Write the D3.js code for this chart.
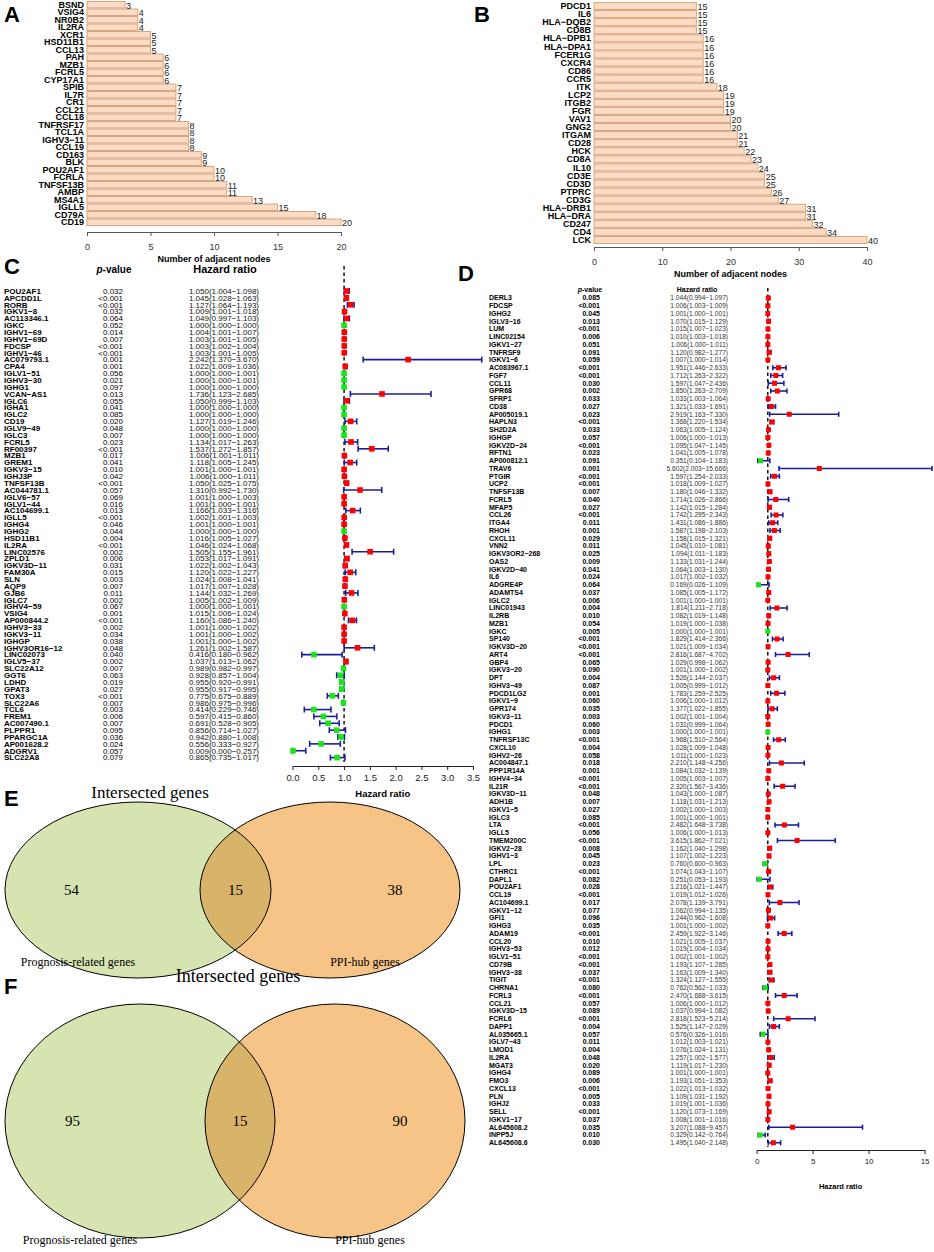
<!DOCTYPE html>
<html>
<head>
<meta charset="utf-8">
<script src="https://d3js.org/d3.v7.min.js"></script>
<style>
  body { margin: 0; background: #fff; }
  svg { display: block; font-family: "Liberation Sans", Arial, sans-serif; }
</style>
</head>
<body>
<script>
"use strict";

// ---- Panel A : hub genes of prognosis-related set ----
var aGenes = ["BSND","VSIG4","NR0B2","IL2RA","XCR1","HSD11B1","CCL13","PAH","MZB1","FCRL5","CYP17A1","SPIB","IL7R","CR1","CCL21","CCL18","TNFRSF17","TCL1A","IGHV3-11","CCL19","CD163","BLK","POU2AF1","FCRLA","TNFSF13B","AMBP","MS4A1","IGLL5","CD79A","CD19"];
var aCounts = [3,4,4,4,5,5,5,6,6,6,6,7,7,7,7,7,8,8,8,8,9,9,10,10,11,11,13,15,18,20];
var aTicks = [0,5,10,15,20];

// ---- Panel B : hub genes of PPI network ----
var bGenes = ["PDCD1","IL6","HLA-DQB2","CD8B","HLA-DPB1","HLA-DPA1","FCER1G","CXCR4","CD86","CCR5","ITK","LCP2","ITGB2","FGR","VAV1","GNG2","ITGAM","CD28","HCK","CD8A","IL10","CD3E","CD3D","PTPRC","CD3G","HLA-DRB1","HLA-DRA","CD247","CD4","LCK"];
var bCounts = [15,15,15,15,16,16,16,16,16,16,18,19,19,19,20,20,21,21,22,23,24,25,25,26,27,31,31,32,34,40];
var bTicks = [0,10,20,30,40];

// ---- Panel C : forest plot ----
var cGenes = ["POU2AF1","APCDD1L","RORB","IGKV1-8","AC113346.1","IGKC","IGHV1-69","IGHV1-69D","FDCSP","IGHV1-46","AC079793.1","CPA4","IGLV1-51","IGHV3-30","IGHG1","VCAN-AS1","IGLC6","IGHA1","IGLC2","CD19","IGLV9-49","IGLC3","FCRL5","RF00397","MZB1","GREM1","IGKV3-15","IGHJ3P","TNFSF13B","AC044781.1","IGLV6-57","IGLV1-44","AC104699.1","IGLL5","IGHG4","IGHG2","HSD11B1","IL2RA","LINC02576","ZPLD1","IGKV3D-11","FAM30A","SLN","AQP9","GJB6","IGLC7","IGHV4-59","VSIG4","AP000844.2","IGHV3-33","IGKV3-11","IGHGP","IGHV3OR16-12","LINC02073","IGLV5-37","SLC22A12","GGT6","LDHD","GPAT3","TOX3","SLC22A6","TCL6","FREM1","AC007490.1","PLPPR1","PPARGC1A","AP001628.2","ADGRV1","SLC22A8"];
var cPval = ["0.032","<0.001","<0.001","0.032","0.064","0.052","0.014","0.007","<0.001","<0.001","0.001","0.001","0.056","0.021","0.097","0.013","0.055","0.041","0.085","0.020","0.048","0.007","0.023","<0.001","0.017","0.041","0.010","0.042","<0.001","0.057","0.069","0.016","0.013","<0.001","0.046","0.044","0.004","<0.001","0.002","0.006","0.031","0.015","0.003","0.007","0.011","0.002","0.067","0.001","<0.001","0.002","0.034","0.038","0.048","0.040","0.002","0.007","0.063","0.019","0.027","<0.001","0.007","0.003","0.006","0.007","0.095","0.036","0.024","0.057","0.079"];
var cHR = [1.050,1.045,1.127,1.009,1.049,1.000,1.004,1.003,1.003,1.003,2.242,1.022,1.000,1.000,1.000,1.736,1.050,1.000,1.000,1.127,1.000,1.000,1.134,1.537,1.006,1.118,1.001,1.006,1.050,1.310,1.001,1.001,1.166,1.002,1.001,1.000,1.016,1.046,1.505,1.053,1.022,1.120,1.024,1.017,1.144,1.005,1.000,1.015,1.160,1.001,1.001,1.001,1.261,0.416,1.037,0.989,0.928,0.955,0.955,0.775,0.986,0.414,0.597,0.691,0.856,0.942,0.556,0.009,0.865];
var cLower = [1.004,1.028,1.064,1.001,0.997,1.000,1.001,1.001,1.002,1.001,1.370,1.009,1.000,1.000,1.000,1.123,0.999,1.000,1.000,1.019,1.000,1.000,1.017,1.272,1.001,1.005,1.000,1.000,1.025,0.992,1.000,1.000,1.033,1.001,1.000,1.000,1.005,1.024,1.155,1.017,1.002,1.022,1.008,1.007,1.032,1.002,1.000,1.006,1.086,1.000,1.000,1.000,1.002,0.180,1.013,0.982,0.857,0.920,0.917,0.675,0.975,0.229,0.415,0.528,0.714,0.880,0.333,0.000,0.735];
var cUpper = [1.098,1.063,1.193,1.018,1.103,1.000,1.007,1.005,1.004,1.005,3.670,1.036,1.001,1.001,1.000,2.685,1.103,1.000,1.000,1.246,1.000,1.000,1.263,1.857,1.011,1.245,1.001,1.011,1.075,1.730,1.003,1.001,1.316,1.003,1.001,1.000,1.027,1.068,1.961,1.091,1.043,1.227,1.041,1.028,1.269,1.009,1.001,1.024,1.240,1.002,1.002,1.002,1.587,0.962,1.062,0.997,1.004,0.991,0.995,0.889,0.996,0.746,0.860,0.905,1.027,1.008,0.927,0.257,1.017];
var cTicks = [0,0.5,1,1.5,2,2.5,3,3.5];

// ---- Panel D : forest plot ----
var dGenes = ["DERL3","FDCSP","IGHG2","IGLV3-16","LUM","LINC02154","IGKV1-27","TNFRSF9","IGKV1-6","AC083967.1","FGF7","CCL11","GPR68","SFRP1","CD38","AP005019.1","HAPLN3","SH2D2A","IGHGP","IGKV2D-24","RFTN1","AP000812.1","TRAV6","PTGIR","UCP2","TNFSF13B","FCRL5","MFAP5","CCL26","ITGA4","RHOH","CXCL11","VNN2","IGKV3OR2-268","OAS2","IGKV2D-40","IL6","ADGRE4P","ADAMTS4","IGLC2","LINC01943","IL2RB","MZB1","IGKC","SP140","IGKV3D-20","ART4","GBP4","IGKV3-20","DPT","IGHV3-49","PDCD1LG2","IGKV1-9","GPR174","IGKV3-11","PDCD1","IGHG1","TNFRSF13C","CXCL10","IGHV2-26","AC004847.1","PPP1R14A","IGHV4-34","IL21R","IGKV3D-11","ADH1B","IGKV1-5","IGLC3","LTA","IGLL5","TMEM200C","IGKV2-28","IGHV1-3","LPL","CTHRC1","DAPL1","POU2AF1","CCL19","AC104699.1","IGKV1-12","GFI1","IGHG3","ADAM19","CCL20","IGHV3-53","IGLV1-51","CD79B","IGHV3-38","TIGIT","CHRNA1","FCRL3","CCL21","IGKV3D-15","FCRL6","DAPP1","AL035665.1","IGLV7-43","LMOD1","IL2RA","MGAT3","IGHG4","FMO3","CXCL13","PLN","IGHJ2","SELL","IGKV1-17","AL645608.2","INPP5J","AL645608.6"];
var dPval = ["0.085","<0.001","0.045","0.013","<0.001","0.006","0.051","0.091","0.059","<0.001","<0.001","0.030","0.002","0.033","0.027","0.023","<0.001","0.033","0.057","<0.001","0.023","0.091","0.001","<0.001","<0.001","0.007","0.040","0.027","<0.001","0.011","0.001","0.029","0.011","0.025","0.009","0.041","0.024","0.064","0.037","0.006","0.004","0.010","0.054","0.005","<0.001","<0.001","<0.001","0.065","0.090","0.004","0.087","0.001","0.060","0.035","0.003","0.060","0.003","<0.001","0.004","0.058","0.018","0.001","<0.001","<0.001","0.048","0.007","0.027","0.085","<0.001","0.056","<0.001","0.008","0.045","0.023","<0.001","0.082","0.028","<0.001","0.017","0.077","0.096","0.035","<0.001","0.010","0.012","<0.001","<0.001","0.037","<0.001","0.080","<0.001","0.057","0.089","<0.001","0.004","0.057","0.011","0.004","0.048","0.020","0.089","0.006","<0.001","0.005","0.033","<0.001","0.037","0.035","0.010","0.030"];
var dHR = [1.044,1.006,1.001,1.070,1.015,1.010,1.006,1.120,1.007,1.951,1.712,1.597,1.850,1.033,1.321,2.919,1.368,1.063,1.006,1.095,1.041,0.351,5.602,1.597,1.018,1.180,1.714,1.142,1.742,1.431,1.587,1.158,1.045,1.094,1.133,1.064,1.017,0.169,1.085,1.001,1.814,1.082,1.019,1.000,1.829,1.021,2.816,1.029,1.001,1.526,1.005,1.783,1.006,1.377,1.002,1.031,1.000,1.968,1.028,1.011,2.210,1.084,1.005,2.320,1.043,1.118,1.002,1.001,2.482,1.006,3.615,1.162,1.107,0.760,1.074,0.251,1.216,1.019,2.078,1.062,1.244,1.001,2.459,1.021,1.019,1.002,1.193,1.163,1.324,0.762,2.470,1.006,1.037,2.818,1.525,0.576,1.012,1.076,1.257,1.119,1.001,1.193,1.022,1.109,1.019,1.120,1.008,3.207,0.329,1.495];
var dLower = [0.994,1.003,1.000,1.015,1.007,1.003,1.000,0.982,1.000,1.446,1.263,1.047,1.263,1.003,1.033,1.163,1.220,1.005,1.000,1.047,1.005,0.104,2.003,1.254,1.009,1.046,1.026,1.015,1.295,1.086,1.198,1.015,1.010,1.011,1.031,1.003,1.002,0.026,1.005,1.000,1.211,1.019,1.000,1.000,1.414,1.009,1.687,0.998,1.000,1.144,0.999,1.259,1.000,1.022,1.001,0.999,1.000,1.510,1.009,1.000,1.148,1.032,1.003,1.567,1.000,1.031,1.000,1.000,1.648,1.000,1.862,1.040,1.002,0.600,1.043,0.053,1.021,1.012,1.139,0.994,0.962,1.000,1.922,1.005,1.004,1.001,1.107,1.009,1.127,0.562,1.688,1.000,0.994,1.523,1.147,0.326,1.003,1.024,1.002,1.017,1.000,1.051,1.013,1.031,1.001,1.073,1.001,1.088,0.142,1.040];
var dUpper = [1.097,1.009,1.001,1.129,1.023,1.018,1.011,1.277,1.014,2.633,2.322,2.436,2.709,1.064,1.691,7.330,1.534,1.124,1.013,1.145,1.078,1.183,15.666,2.033,1.027,1.332,2.866,1.284,2.343,1.886,2.103,1.321,1.081,1.183,1.244,1.130,1.032,1.109,1.172,1.001,2.718,1.148,1.038,1.001,2.366,1.034,4.702,1.062,1.002,2.037,1.012,2.525,1.012,1.855,1.004,1.064,1.001,2.564,1.048,1.023,4.256,1.139,1.007,3.436,1.087,1.213,1.003,1.001,3.738,1.013,7.021,1.298,1.223,0.963,1.107,1.193,1.447,1.026,3.791,1.135,1.608,1.002,3.146,1.037,1.034,1.002,1.285,1.340,1.555,1.033,3.615,1.012,1.082,5.214,2.029,1.016,1.021,1.131,1.577,1.230,1.001,1.353,1.032,1.192,1.036,1.169,1.016,9.457,0.764,2.148];
var dTicks = [0,5,10,15];

// ---- Panels E / F : Venn counts ----
var vennNames = ["Prognosis-related genes", "PPI-hub genes"];
var vennE = [54, 15, 38];
var vennF = [95, 15, 90];

var W = 934, H = 1252;
var svg = d3.select("body").append("svg").attr("width", W).attr("height", H);
svg.append("rect").attr("width", W).attr("height", H).attr("fill", "#fff");

function panelLetter(t, x, y) {
  svg.append("text").attr("x", x).attr("y", y).text(t)
    .style("font-size", "22px").style("font-weight", "bold");
}
var minus = function(s) { return s.replace(/-/g, "\u2212"); };

// horizontal bar chart of adjacent node counts
function drawBars(genes, counts, ticks, o) {
  var g = svg.append("g");
  var x = d3.scaleLinear().domain([0, d3.max(ticks)]).range([o.x0, o.x1]);
  var y = d3.scaleBand().domain(genes).range([o.y0, o.y1]).paddingInner(0.14).paddingOuter(0.07);

  g.selectAll("rect").data(genes).join("rect")
    .attr("x", x(0)).attr("y", function(d) { return y(d); })
    .attr("width", function(d, i) { return x(counts[i]) - x(0); })
    .attr("height", y.bandwidth())
    .attr("fill", "#fddcc5").attr("stroke", "#d8a47f").attr("stroke-width", 1);

  g.selectAll("text.gene").data(genes).join("text").attr("class", "gene")
    .attr("x", x(0) - 3).attr("y", function(d) { return y(d) + y.bandwidth() / 2; })
    .attr("dy", "0.35em").attr("text-anchor", "end")
    .style("font-size", "9px").style("font-weight", "bold")
    .text(minus);

  g.selectAll("text.val").data(genes).join("text").attr("class", "val")
    .attr("x", function(d, i) { return x(counts[i]) + 1; })
    .attr("y", function(d) { return y(d) + y.bandwidth() / 2 + 1; })
    .attr("dy", "0.35em").style("font-size", "9px").attr("fill", "#222")
    .text(function(d, i) { return counts[i]; });

  var ax = g.append("g").attr("transform", "translate(0," + o.axisY + ")")
    .call(d3.axisBottom(x).tickValues(ticks).tickSize(4).tickSizeOuter(0).tickPadding(8));
  ax.selectAll("text").style("font-size", "9px").attr("fill", "#333");
  ax.selectAll("line,path").attr("stroke", "#555");

  g.append("text").attr("x", (o.x0 + o.x1) / 2).attr("y", o.axisY + 30)
    .attr("text-anchor", "middle").style("font-size", "9px").style("font-weight", "bold")
    .text("Number of adjacent nodes");
}

drawBars(aGenes, aCounts, aTicks, { x0: 87, x1: 341, y0: 1, y1: 226, axisY: 232 });
drawBars(bGenes, bCounts, bTicks, { x0: 594, x1: 867, y0: 2, y1: 244, axisY: 247 });
panelLetter("A", 4, 22);
panelLetter("B", 474, 22);

// forest plot with p-value and HR(95% CI) columns
function drawForest(genes, pv, hr, lo, hi, ticks, o) {
  var g = svg.append("g");
  var n = genes.length;
  var y = d3.scalePoint().domain(d3.range(n)).range([o.y0, o.y1]);
  var x = d3.scaleLinear().domain([0, d3.max(ticks)]).range([o.x0, o.x1]);
  var f3 = d3.format(".3f");
  var idx = d3.range(n);

  // header
  var hp = g.append("text").attr("x", o.pX - o.pHeadShift).attr("y", o.headY).attr("text-anchor", "middle")
    .style("font-size", o.headSize + "px").style("font-weight", "bold");
  hp.append("tspan").style("font-style", "italic").text("p");
  hp.append("tspan").text("-value");
  g.append("text").attr("x", o.hrHeadX).attr("y", o.headY).attr("text-anchor", "middle")
    .style("font-size", o.headSize2 + "px").style("font-weight", "bold").text("Hazard ratio");

  // table columns
  g.selectAll("text.nm").data(idx).join("text").attr("class", "nm")
    .attr("x", o.nameX).attr("y", function(i) { return y(i); }).attr("dy", "0.35em")
    .style("font-size", o.font + "px").style("font-weight", "bold")
    .text(function(i) { return minus(genes[i]); });
  g.selectAll("text.pv").data(idx).join("text").attr("class", "pv")
    .attr("x", o.pX).attr("y", function(i) { return y(i); }).attr("dy", "0.35em")
    .attr("text-anchor", "end").style("font-size", o.font + "px").style("font-weight", o.pWeight)
    .text(function(i) { return pv[i]; });
  g.selectAll("text.hr").data(idx).join("text").attr("class", "hr")
    .attr("x", o.hrX).attr("y", function(i) { return y(i); }).attr("dy", "0.35em")
    .attr("text-anchor", "end").style("font-size", o.hrFont + "px").attr("fill", o.hrColor)
    .text(function(i) { return minus(f3(hr[i]) + "(" + f3(lo[i]) + "-" + f3(hi[i]) + ")"); });

  // reference line at HR = 1
  g.append("line").attr("x1", x(1)).attr("x2", x(1)).attr("y1", o.dashTop).attr("y2", o.dashBottom)
    .attr("stroke", "#000").attr("stroke-width", 1.4).attr("stroke-dasharray", "3.5,3");

  // confidence intervals
  var ci = g.selectAll("g.ci").data(idx).join("g").attr("class", "ci").attr("stroke", "#1b1f96").attr("stroke-width", 1.6);
  ci.append("line").attr("x1", function(i) { return x(lo[i]); }).attr("x2", function(i) { return x(hi[i]); })
    .attr("y1", function(i) { return y(i); }).attr("y2", function(i) { return y(i); });
  ci.append("line").attr("x1", function(i) { return x(lo[i]); }).attr("x2", function(i) { return x(lo[i]); })
    .attr("y1", function(i) { return y(i) - o.cap / 2; }).attr("y2", function(i) { return y(i) + o.cap / 2; });
  ci.append("line").attr("x1", function(i) { return x(hi[i]); }).attr("x2", function(i) { return x(hi[i]); })
    .attr("y1", function(i) { return y(i) - o.cap / 2; }).attr("y2", function(i) { return y(i) + o.cap / 2; });

  // point estimates
  g.selectAll("rect.pt").data(idx).join("rect").attr("class", "pt")
    .attr("x", function(i) { return x(hr[i]) - o.sq / 2; }).attr("y", function(i) { return y(i) - o.sq / 2; })
    .attr("width", o.sq).attr("height", o.sq)
    .attr("fill", function(i) { return +f3(hr[i]) > 1 ? "#ff0000" : "#19e619"; });

  var ax = g.append("g").attr("transform", "translate(0," + o.axisY + ")")
    .call(d3.axisBottom(x).tickValues(ticks).tickFormat(o.tickFmt).tickSize(4).tickSizeOuter(0).tickPadding(4));
  ax.selectAll("text").style("font-size", o.axisFont + "px").attr("fill", "#222");
  ax.selectAll("line,path").attr("stroke", "#222");
  g.append("text").attr("x", (o.x0 + o.x1) / 2).attr("y", o.titleY).attr("text-anchor", "middle")
    .style("font-size", o.titleFont + "px").style("font-weight", "bold").text("Hazard ratio");
}

drawForest(cGenes, cPval, cHR, cLower, cUpper, cTicks, {
  y0: 291, y1: 757.6, x0: 292.5, x1: 473,
  nameX: 4, pX: 123, hrX: 259, font: 8, hrFont: 8, pWeight: "normal", hrColor: "#111",
  headY: 273, pHeadShift: 9, headSize: 10, hrHeadX: 225, headSize2: 11,
  dashTop: 266, dashBottom: 762, cap: 6, sq: 5.6,
  axisY: 766, axisFont: 9.5, tickFmt: d3.format(".1f"), titleY: 797, titleFont: 9.5
});
panelLetter("C", 4, 274);

drawForest(dGenes, dPval, dHR, dLower, dUpper, dTicks, {
  y0: 298, y1: 1142.75, x0: 756.6, x1: 924.6,
  nameX: 489, pX: 600, hrX: 728, font: 7, hrFont: 6.6, pWeight: "bold", hrColor: "#333",
  headY: 292, pHeadShift: 10, headSize: 7, hrHeadX: 697, headSize2: 7,
  dashTop: 288, dashBottom: 1147, cap: 5, sq: 5,
  axisY: 1150, axisFont: 8, tickFmt: d3.format("d"), titleY: 1189, titleFont: 7.5
});
panelLetter("D", 458, 281);

// Venn diagrams
function drawVenn(counts, o) {
  var g = svg.append("g");
  var id = "clip" + o.tag;
  g.append("clipPath").attr("id", id).append("ellipse")
    .attr("cx", o.lx).attr("cy", o.cy).attr("rx", o.lr).attr("ry", o.ry);
  g.append("ellipse").attr("cx", o.lx).attr("cy", o.cy).attr("rx", o.lr).attr("ry", o.ry).attr("fill", "#d6e4b1");
  g.append("ellipse").attr("cx", o.rx).attr("cy", o.cy).attr("rx", o.rr).attr("ry", o.ry).attr("fill", "#f6c486");
  g.append("ellipse").attr("cx", o.rx).attr("cy", o.cy).attr("rx", o.rr).attr("ry", o.ry)
    .attr("clip-path", "url(#" + id + ")").attr("fill", "#d8b46b");
  g.append("ellipse").attr("cx", o.lx).attr("cy", o.cy).attr("rx", o.lr).attr("ry", o.ry).attr("fill", "none").attr("stroke", "#000");
  g.append("ellipse").attr("cx", o.rx).attr("cy", o.cy).attr("rx", o.rr).attr("ry", o.ry).attr("fill", "none").attr("stroke", "#000");

  var nx = [o.lx - o.lr * 0.5, (o.lx + o.lr + o.rx - o.rr) / 2, o.rx + o.rr * 0.5];
  g.selectAll("text.n").data(counts).join("text").attr("class", "n")
    .attr("x", function(d, i) { return nx[i]; }).attr("y", o.cy).attr("dy", "0.35em")
    .attr("text-anchor", "middle").style("font-family", "'Liberation Serif', serif").style("font-size", "15px")
    .text(function(d) { return d; });
  g.selectAll("text.lab").data(vennNames).join("text").attr("class", "lab")
    .attr("x", function(d, i) { return i === 0 ? o.lx - 60 : o.rx + 35; }).attr("y", o.labY)
    .attr("text-anchor", "middle").style("font-family", "'Liberation Serif', serif").style("font-size", "12px")
    .text(function(d) { return d; });
}

svg.append("text").attr("x", 150).attr("y", 798).attr("text-anchor", "middle")
  .style("font-family", "'Liberation Serif', serif").style("font-size", "17px").text("Intersected genes");
panelLetter("E", 4, 806);
drawVenn(vennE, { tag: "E", lx: 138, lr: 133, rx: 330, rr: 130, cy: 890, ry: 88, labY: 966 });

svg.append("text").attr("x", 238).attr("y", 982).attr("text-anchor", "middle")
  .style("font-family", "'Liberation Serif', serif").style("font-size", "18px").text("Intersected genes");
panelLetter("F", 4, 994);
drawVenn(vennF, { tag: "F", lx: 140, lr: 135, rx: 335, rr: 130, cy: 1121, ry: 117, labY: 1244 });
</script>
</body>
</html>
